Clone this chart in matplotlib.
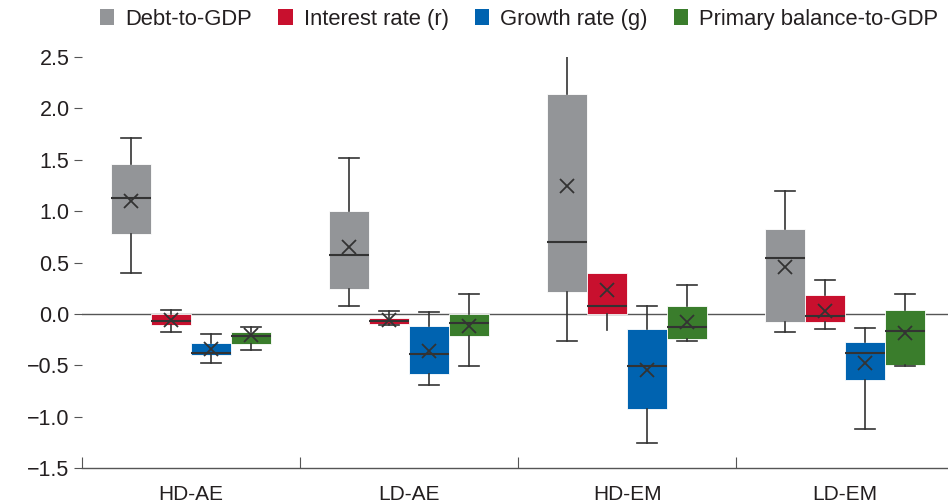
import matplotlib
matplotlib.use("Agg")
import matplotlib.pyplot as plt
from matplotlib.patches import Patch

groups = ["HD-AE", "LD-AE", "HD-EM", "LD-EM"]
series = ["Debt-to-GDP", "Interest rate (r)", "Growth rate (g)", "Primary balance-to-GDP"]
colors = ["#939598", "#c8102e", "#0063b0", "#3a7d2c"]

# box stats per series, one value per group
debt_lo = [0.40, 0.08, -0.26, -0.18]
debt_q1 = [0.78, 0.24, 0.21, -0.075]
debt_med = [1.13, 0.57, 0.70, 0.54]
debt_mean = [1.10, 0.65, 1.245, 0.46]
debt_q3 = [1.46, 1.00, 2.14, 0.825]
debt_hi = [1.71, 1.52, 2.8, 1.20]

rate_lo = [-0.18, -0.11, -0.155, -0.145]
rate_q1 = [-0.107, -0.095, 0.0, -0.075]
rate_med = [-0.065, -0.065, 0.078, -0.02]
rate_mean = [-0.055, -0.06, 0.23, 0.03]
rate_q3 = [0.0, -0.04, 0.40, 0.18]
rate_hi = [0.04, 0.03, 0.40, 0.33]

growth_lo = [-0.475, -0.69, -1.255, -1.125]
growth_q1 = [-0.40, -0.585, -0.93, -0.645]
growth_med = [-0.38, -0.39, -0.51, -0.385]
growth_mean = [-0.345, -0.36, -0.545, -0.475]
growth_q3 = [-0.285, -0.115, -0.15, -0.275]
growth_hi = [-0.20, 0.015, 0.078, -0.135]

pb_lo = [-0.35, -0.51, -0.26, -0.51]
pb_q1 = [-0.295, -0.22, -0.245, -0.50]
pb_med = [-0.22, -0.09, -0.13, -0.17]
pb_mean = [-0.21, -0.115, -0.08, -0.19]
pb_q3 = [-0.175, 0.0, 0.08, 0.04]
pb_hi = [-0.13, 0.19, 0.285, 0.19]

all_stats = [
    (debt_lo, debt_q1, debt_med, debt_mean, debt_q3, debt_hi),
    (rate_lo, rate_q1, rate_med, rate_mean, rate_q3, rate_hi),
    (growth_lo, growth_q1, growth_med, growth_mean, growth_q3, growth_hi),
    (pb_lo, pb_q1, pb_med, pb_mean, pb_q3, pb_hi),
]

plt.rcParams["font.family"] = ["Liberation Sans", "DejaVu Sans"]
plt.rcParams["text.color"] = "#231f20"

fig = plt.figure(figsize=(9.48, 5.04), dpi=100)
ax = fig.add_axes([0.0865, 0.0714, 0.92, 0.8155])

bw = 0.1835
dark = "#333333"
ax.axhline(0, color="#555555", lw=1.0, zorder=1)

for k, (lo, q1, med, mean, q3, hi) in enumerate(all_stats):
    stats = []
    for i in range(len(groups)):
        stats.append(dict(whislo=lo[i], q1=q1[i], med=med[i], mean=mean[i],
                          q3=q3[i], whishi=hi[i], fliers=[]))
    pos = [i + 0.5 + (k - 1.5) * bw for i in range(len(groups))]
    # no cap where the whisker has zero length above the box
    caps = [0 if hi[i] == q3[i] else bw / 2 for i in range(len(groups))]
    ax.bxp(stats, positions=pos, widths=bw, patch_artist=True, showmeans=True,
           manage_ticks=False, zorder=2, capwidths=caps,
           boxprops=dict(facecolor=colors[k], edgecolor="white", lw=0.6),
           medianprops=dict(color=dark, lw=1.5),
           whiskerprops=dict(color=dark, lw=1.2),
           capprops=dict(color=dark, lw=1.2),
           meanprops=dict(marker="x", markeredgecolor=dark, markersize=10,
                          markeredgewidth=1.3))

ax.set_xlim(0, 4)
ax.set_ylim(-1.5, 2.5)
ax.set_yticks([-1.5, -1.0, -0.5, 0.0, 0.5, 1.0, 1.5, 2.0, 2.5])
ax.set_yticklabels([f"{v:.1f}".replace("-", "\u2212") for v in ax.get_yticks()])
ax.tick_params(axis="y", length=6, width=0.8, color="#555555", pad=3,
               labelsize=15.5, labelcolor="#231f20")

ax.set_xticks([0, 1, 2, 3, 4])
ax.set_xticklabels([])
ax.tick_params(axis="x", which="major", direction="in", length=8, width=0.8, color="#555555")
ax.set_xticks([0.5, 1.5, 2.5, 3.5], minor=True)
ax.set_xticklabels(groups, minor=True, fontsize=15)
ax.tick_params(axis="x", which="minor", length=0, pad=12, labelcolor="#231f20")

for s in ["top", "right", "left"]:
    ax.spines[s].set_visible(False)
ax.spines["bottom"].set_color("#555555")
ax.spines["bottom"].set_linewidth(1.0)

handles = [Patch(facecolor=c, edgecolor="none") for c in colors]
fig.legend(handles, series, loc="upper left", bbox_to_anchor=(0.1055, 0.983), ncol=4,
           frameon=False, fontsize=15.8, borderpad=0, borderaxespad=0,
           handlelength=0.65, handleheight=0.7, handletextpad=0.5,
           columnspacing=1.2)

fig.savefig("out.png", dpi=100)
